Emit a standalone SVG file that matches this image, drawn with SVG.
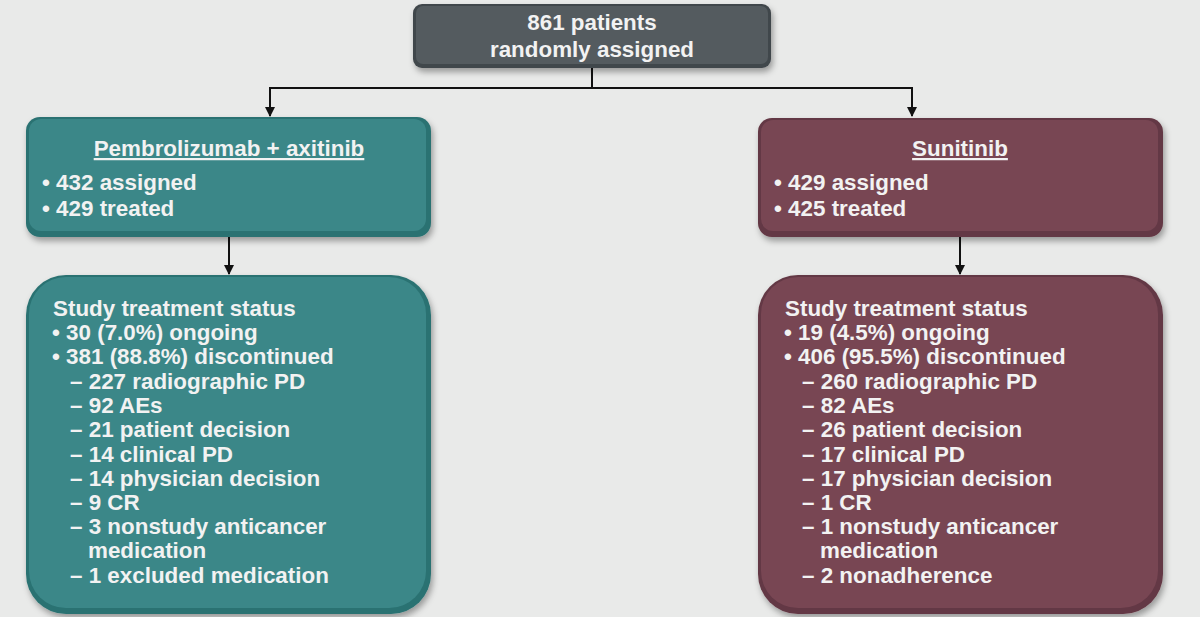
<svg xmlns="http://www.w3.org/2000/svg" width="1200" height="617" viewBox="0 0 1200 617">
<defs>
<style>
.t{font-family:"Liberation Sans",Arial,sans-serif;font-weight:bold;font-size:22.4px;fill:#f2f2f2}
.c{text-anchor:middle}
.ln{stroke:#111;stroke-width:2;fill:none}
</style>
<filter id="sh" x="-10%" y="-10%" width="120%" height="130%">
<feDropShadow dx="2" dy="4" stdDeviation="3" flood-color="#000" flood-opacity="0.35"/>
</filter>
<marker id="ar" viewBox="0 0 10 10" refX="9" refY="5" markerWidth="5" markerHeight="5" orient="auto">
<path d="M0,0 L10,5 L0,10 z" fill="#111"/>
</marker>
</defs>
<rect width="1200" height="617" fill="#e9eae9"/>
<g id="connectors">
<path class="ln" d="M592,68 V88"/>
<path class="ln" d="M270,88 H912"/>
<path class="ln" d="M270,87 V116" marker-end="url(#ar)"/>
<path class="ln" d="M912,87 V116" marker-end="url(#ar)"/>
<path class="ln" d="M229,237 V274" marker-end="url(#ar)"/>
<path class="ln" d="M960,237 V274" marker-end="url(#ar)"/>
</g>
<g id="top">
<rect x="413" y="4" width="358" height="64" rx="9" fill="#41474b" filter="url(#sh)"/>
<rect x="416" y="6" width="352" height="58" rx="7" fill="#545b5f"/>
<text class="t c" x="592" y="30">861 patients</text>
<text class="t c" x="592" y="57">randomly assigned</text>
</g>
<g id="pembro">
<rect x="26" y="117" width="405" height="120" rx="14" fill="#2c7272" filter="url(#sh)"/>
<rect x="29" y="119" width="397" height="112" rx="12" fill="#3b8788"/>
<text class="t c" x="229" y="156" text-decoration="underline">Pembrolizumab + axitinib</text>
<text class="t" x="42" y="190">• 432 assigned</text>
<text class="t" x="42" y="216">• 429 treated</text>
</g>
<g id="suni">
<rect x="758" y="118" width="405" height="119" rx="14" fill="#643844" filter="url(#sh)"/>
<rect x="761" y="120" width="397" height="111" rx="12" fill="#784653"/>
<text class="t c" x="960" y="156" text-decoration="underline">Sunitinib</text>
<text class="t" x="774" y="190">• 429 assigned</text>
<text class="t" x="774" y="216">• 425 treated</text>
</g>
<g id="pembro-status">
<rect x="26" y="275" width="405" height="339" rx="40" fill="#2c7272" filter="url(#sh)"/>
<rect x="29" y="277" width="397" height="331" rx="37" fill="#3b8788"/>
<text class="t" x="53" y="316">Study treatment status</text>
<text class="t" x="52" y="340">• 30 (7.0%) ongoing</text>
<text class="t" x="52" y="364">• 381 (88.8%) discontinued</text>
<text class="t" x="70" y="389">– 227 radiographic PD</text>
<text class="t" x="70" y="413">– 92 AEs</text>
<text class="t" x="70" y="437">– 21 patient decision</text>
<text class="t" x="70" y="462">– 14 clinical PD</text>
<text class="t" x="70" y="486">– 14 physician decision</text>
<text class="t" x="70" y="510">– 9 CR</text>
<text class="t" x="70" y="534">– 3 nonstudy anticancer</text>
<text class="t" x="88" y="558">medication</text>
<text class="t" x="70" y="583">– 1 excluded medication</text>
</g>
<g id="suni-status">
<rect x="758" y="275" width="405" height="339" rx="40" fill="#643844" filter="url(#sh)"/>
<rect x="761" y="277" width="397" height="331" rx="37" fill="#784653"/>
<text class="t" x="785" y="316">Study treatment status</text>
<text class="t" x="784" y="340">• 19 (4.5%) ongoing</text>
<text class="t" x="784" y="364">• 406 (95.5%) discontinued</text>
<text class="t" x="802" y="389">– 260 radiographic PD</text>
<text class="t" x="802" y="413">– 82 AEs</text>
<text class="t" x="802" y="437">– 26 patient decision</text>
<text class="t" x="802" y="462">– 17 clinical PD</text>
<text class="t" x="802" y="486">– 17 physician decision</text>
<text class="t" x="802" y="510">– 1 CR</text>
<text class="t" x="802" y="534">– 1 nonstudy anticancer</text>
<text class="t" x="820" y="558">medication</text>
<text class="t" x="802" y="583">– 2 nonadherence</text>
</g>
</svg>
